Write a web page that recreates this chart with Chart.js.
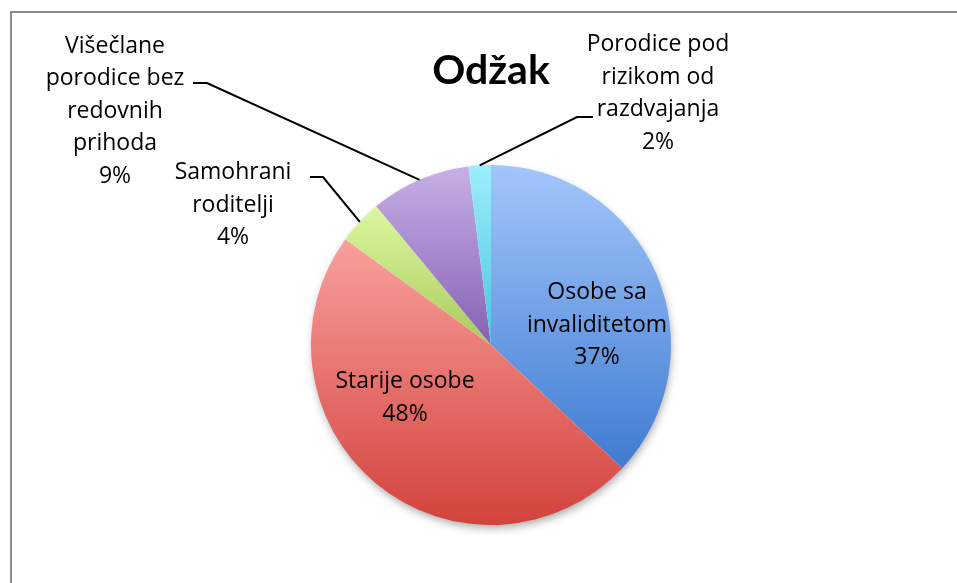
<!DOCTYPE html>
<html>
<head>
<meta charset="utf-8">
<script src="https://cdn.jsdelivr.net/npm/chart.js@4.4.0/dist/chart.umd.min.js"></script>
<style>
html,body{margin:0;padding:0;background:#fff;}
#wrap{position:relative;width:957px;height:583px;}
#frame{position:absolute;left:10px;top:11px;right:0;bottom:0;border-left:2px solid #8c8c8c;border-top:2px solid #8c8c8c;}
canvas{position:absolute;left:0;top:0;}
</style>
</head>
<body>
<div id="wrap"><div id="frame"></div><canvas id="pie" width="957" height="583"></canvas></div>
<script>
// ===== data =====
const categories = ['Osobe sa invaliditetom','Starije osobe','Samohrani roditelji','Višečlane porodice bez redovnih prihoda','Porodice pod rizikom od razdvajanja'];
const shares = [37, 48, 4, 9, 2];
const chartTitle = 'Odžak';

// slice gradient colours, top -> bottom
const lightColors = ['#a3c6fb','#f9a09d','#dcf8a0','#c6afe6','#9ceefc'];
const darkColors  = ['#3f7bd1','#d3423c','#a8ca5c','#8661b4','#4cc3df'];

const FONT = '"Open Sans", Lato, sans-serif';
const TITLE_FONT = 'Lato, "Open Sans", sans-serif';
const LINE_H = 32.5;

// where each label block sits (centre), wrap width, and leader stub
const labelLayout = [
  {x:597, y:325, maxW:162},
  {x:405, y:398, maxW:185},
  {x:233, y:205, maxW:140, stub:[[310,177],[323,177]]},
  {x:115, y:111, maxW:162, stub:[[193,83],[207,83]]},
  {x:658, y:93.5, maxW:166, stub:[[593,117],[577,117]]}
];

const total = shares.reduce((s,v)=>s+v,0);

function sliceFill(c){
  const chart = c.chart, a = chart.chartArea, i = c.dataIndex;
  if(!a) return lightColors[i];
  const cx=(a.left+a.right)/2, cy=(a.top+a.bottom)/2;
  const r=Math.min(a.right-a.left,a.bottom-a.top)/2;
  let start = -Math.PI/2;
  for(let k=0;k<i;k++) start += shares[k]/total*2*Math.PI;
  const end = start + shares[i]/total*2*Math.PI;
  const ys=[cy, cy+r*Math.sin(start), cy+r*Math.sin(end)];
  for(const t of [-Math.PI/2, Math.PI/2, 3*Math.PI/2]) if(t>=start && t<=end) ys.push(cy+r*Math.sin(t));
  const g = chart.ctx.createLinearGradient(0,Math.min(...ys),0,Math.max(...ys));
  g.addColorStop(0, lightColors[i]);
  g.addColorStop(1, darkColors[i]);
  return g;
}

function wrapText(ctx, text, maxW){
  const words = text.split(' ');
  const lines = [];
  let cur = '';
  words.forEach(w=>{
    const test = cur ? cur+' '+w : w;
    if(cur && ctx.measureText(test).width > maxW){ lines.push(cur); cur = w; }
    else cur = test;
  });
  if(cur) lines.push(cur);
  return lines;
}

// soft shadow under the pie
const shadowPlugin = {
  id:'pieShadow',
  beforeDatasetsDraw(chart){
    const arc = chart.getDatasetMeta(0).data[0];
    if(!arc) return;
    const ctx = chart.ctx;
    ctx.save();
    ctx.shadowColor='rgba(0,0,0,0.35)';
    ctx.shadowBlur=8;
    ctx.shadowOffsetX=1;
    ctx.shadowOffsetY=4;
    ctx.beginPath();
    ctx.arc(arc.x, arc.y, arc.outerRadius-1, 0, Math.PI*2);
    ctx.fillStyle='#fff';
    ctx.fill();
    ctx.restore();
  }
};

// data labels + leader lines
const labelPlugin = {
  id:'sliceLabels',
  afterDatasetsDraw(chart){
    const ctx = chart.ctx, arcs = chart.getDatasetMeta(0).data;
    ctx.save();
    ctx.font = `23px ${FONT}`;
    ctx.fillStyle='#000';
    ctx.textAlign='center';
    ctx.textBaseline='middle';
    categories.forEach((name,i)=>{
      const lay = labelLayout[i];
      const lines = wrapText(ctx, name, lay.maxW);
      lines.push(Math.round(shares[i]/total*100)+'%');
      const y0 = lay.y - (lines.length-1)*LINE_H/2;
      lines.forEach((t,k)=>ctx.fillText(t, lay.x, y0+k*LINE_H));
      if(lay.stub){
        const arc = arcs[i];
        const mid = (arc.startAngle+arc.endAngle)/2;
        const ex = arc.x + arc.outerRadius*Math.cos(mid);
        const ey = arc.y + arc.outerRadius*Math.sin(mid);
        ctx.beginPath();
        ctx.moveTo(lay.stub[0][0], lay.stub[0][1]);
        ctx.lineTo(lay.stub[1][0], lay.stub[1][1]);
        ctx.lineTo(ex, ey);
        ctx.lineWidth=2;
        ctx.strokeStyle='#000';
        ctx.stroke();
      }
    });
    ctx.restore();
  },
  afterDraw(chart){
    const ctx = chart.ctx;
    ctx.save();
    ctx.font = `bold 41px ${TITLE_FONT}`;
    ctx.fillStyle='#000';
    ctx.textAlign='center';
    ctx.textBaseline='middle';
    ctx.fillText(chartTitle, 491, 71);
    ctx.restore();
  }
};

new Chart(document.getElementById('pie'), {
  type:'pie',
  data:{
    labels:categories,
    datasets:[{
      data:shares,
      backgroundColor:sliceFill,
      borderWidth:0,
      hoverOffset:0,
      offset:0
    }]
  },
  options:{
    responsive:false,
    animation:false,
    layout:{padding:{left:311, right:286, top:165, bottom:58}},
    plugins:{ legend:{display:false}, tooltip:{enabled:false}, title:{display:false} }
  },
  plugins:[shadowPlugin, labelPlugin]
});
</script>
</body>
</html>
